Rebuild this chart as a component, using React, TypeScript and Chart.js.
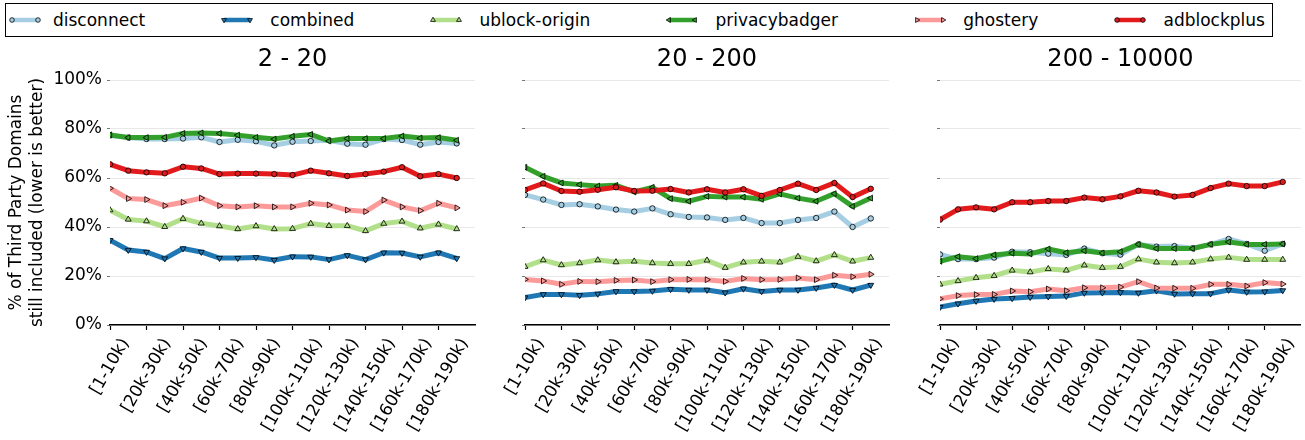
import React, { useEffect, useRef } from 'react';
import { Chart, registerables } from 'chart.js';

Chart.register(...registerables);

const FONT = "'DejaVu Sans', 'Liberation Sans', sans-serif";

// ---------- categories / ticks ----------
const categories = [
  '[1-10k)', '[10k-20k)', '[20k-30k)', '[30k-40k)', '[40k-50k)',
  '[50k-60k)', '[60k-70k)', '[70k-80k)', '[80k-90k)', '[90k-100k)',
  '[100k-110k)', '[110k-120k)', '[120k-130k)', '[130k-140k)', '[140k-150k)',
  '[150k-160k)', '[160k-170k)', '[170k-180k)', '[180k-190k)', '[190k-200k)',
];
const xTickIndices = [0, 2, 4, 6, 8, 10, 12, 14, 16, 18];
const yTickValues = [0, 20, 40, 60, 80, 100];
const yTitleLines = ['% of Third Party Domains', 'still included (lower is better)'];

const panelTitles = ['2 - 20', '20 - 200', '200 - 10000'];
const seriesNames = ['disconnect', 'combined', 'ublock-origin', 'privacybadger', 'ghostery', 'adblockplus'];

// ---------- series values (percent) ----------
// panel "2 - 20"
const disconnect_2_20 = [77.4, 76.5, 75.9, 75.9, 76.1, 76.6, 74.7, 75.6, 75.0, 73.3, 74.8, 75.1, 75.4, 74.0, 73.6, 75.9, 75.5, 73.6, 74.7, 74.1];
const combined_2_20 = [34.6, 30.6, 29.8, 27.1, 31.2, 29.8, 27.3, 27.3, 27.6, 26.5, 27.9, 27.8, 26.7, 28.4, 26.7, 29.5, 29.4, 27.8, 29.5, 27.2];
const ublock_2_20 = [46.9, 43.1, 42.4, 40.1, 43.4, 41.5, 40.4, 39.2, 40.4, 39.2, 39.3, 41.4, 40.5, 40.5, 38.4, 41.4, 42.3, 39.5, 41.1, 39.2];
const privacybadger_2_20 = [77.6, 76.5, 76.5, 76.6, 78.2, 78.4, 78.2, 77.5, 76.6, 75.9, 77.0, 77.8, 75.1, 76.1, 76.1, 76.1, 77.1, 76.3, 76.5, 75.4];
const ghostery_2_20 = [55.8, 51.6, 51.2, 48.7, 50.1, 51.8, 48.7, 48.2, 48.7, 48.2, 48.2, 49.7, 49.0, 46.9, 46.3, 51.0, 48.2, 46.7, 49.7, 47.8];
const adblockplus_2_20 = [65.6, 63.0, 62.3, 61.9, 64.6, 63.9, 61.6, 61.8, 61.8, 61.6, 61.2, 63.0, 61.9, 60.8, 61.6, 62.6, 64.4, 60.7, 61.6, 60.0];

// panel "20 - 200"
const disconnect_20_200 = [53.1, 51.2, 49.0, 49.3, 48.4, 47.1, 46.3, 47.6, 45.2, 44.1, 43.9, 42.9, 43.7, 41.6, 41.6, 42.9, 43.7, 46.3, 40.0, 43.5];
const combined_20_200 = [11.2, 12.5, 12.5, 12.1, 12.7, 13.7, 13.7, 13.9, 14.6, 14.3, 14.3, 13.2, 14.8, 13.7, 14.3, 14.3, 15.1, 16.3, 14.3, 16.3];
const ublock_20_200 = [23.8, 26.5, 24.5, 25.3, 26.5, 25.7, 26.0, 25.3, 25.0, 25.0, 26.4, 23.4, 25.6, 26.0, 25.6, 27.9, 26.1, 28.6, 26.0, 27.5];
const privacybadger_20_200 = [64.4, 60.7, 58.0, 57.3, 56.7, 57.0, 54.3, 56.2, 51.6, 50.5, 52.5, 52.2, 52.2, 51.3, 53.5, 51.8, 50.5, 53.6, 48.4, 51.8];
const ghostery_20_200 = [18.6, 18.0, 16.6, 17.8, 17.7, 18.2, 18.4, 17.7, 18.5, 18.6, 18.5, 17.8, 19.0, 18.5, 18.6, 19.2, 18.5, 20.3, 19.7, 20.7];
const adblockplus_20_200 = [55.1, 57.8, 54.7, 54.4, 55.2, 56.2, 54.7, 54.8, 55.5, 54.1, 55.4, 54.1, 55.4, 52.7, 55.1, 57.7, 55.1, 58.0, 52.2, 55.6];

// panel "200 - 10000"
const disconnect_200_10000 = [28.8, 26.9, 26.9, 27.5, 29.9, 29.7, 29.1, 28.6, 31.2, 29.3, 28.7, 32.9, 32.0, 32.2, 31.3, 32.9, 35.1, 33.1, 30.3, 33.1];
const combined_200_10000 = [7.3, 8.7, 9.8, 10.6, 10.9, 11.4, 11.6, 11.8, 13.1, 13.2, 13.3, 13.1, 14.0, 12.7, 12.8, 12.8, 14.3, 13.5, 13.6, 14.1];
const ublock_200_10000 = [16.6, 18.0, 19.3, 20.1, 22.3, 21.6, 22.9, 22.3, 24.4, 23.4, 23.8, 26.9, 25.6, 25.3, 25.6, 26.9, 27.6, 26.7, 26.7, 26.7];
const privacybadger_200_10000 = [26.0, 27.9, 27.1, 28.6, 29.3, 29.0, 31.0, 29.5, 30.3, 29.4, 29.9, 32.9, 31.2, 31.2, 31.2, 32.9, 33.9, 32.9, 32.9, 33.1];
const ghostery_200_10000 = [10.7, 12.0, 12.4, 12.5, 13.9, 13.6, 14.7, 14.0, 15.2, 15.2, 15.5, 17.7, 15.1, 15.0, 15.0, 16.6, 16.6, 15.9, 17.3, 16.7];
const adblockplus_200_10000 = [43.0, 47.2, 48.0, 47.2, 50.1, 50.1, 50.6, 50.6, 52.0, 51.3, 52.5, 54.8, 54.1, 52.4, 53.1, 55.9, 57.7, 56.7, 56.7, 58.4];

const panelSeries = [
  [disconnect_2_20, combined_2_20, ublock_2_20, privacybadger_2_20, ghostery_2_20, adblockplus_2_20],
  [disconnect_20_200, combined_20_200, ublock_20_200, privacybadger_20_200, ghostery_20_200, adblockplus_20_200],
  [disconnect_200_10000, combined_200_10000, ublock_200_10000, privacybadger_200_10000, ghostery_200_10000, adblockplus_200_10000],
];

// ---------- styles ----------
const seriesColors = ['#a6cee3', '#1f78b4', '#b2df8a', '#33a02c', '#fb9a99', '#e31a1c'];
const seriesMarkers = ['circle', 'triangle', 'triangle', 'triangle', 'triangle', 'circle'];
const markerRotations = [0, 180, 0, 270, 90, 0];

const panelLayout = [
  { left: 0, width: 490, yWidth: 110, rightPad: 15, showY: true },
  { left: 490, width: 415, yWidth: 35, rightPad: 16, showY: false },
  { left: 905, width: 400, yWidth: 35, rightPad: 1, showY: false },
];
const CHART_TOP = 40;
const CHART_HEIGHT = 400;
const X_LABEL_FONT_SIZE = 17;
const X_LABEL_ROTATION = 60;

// Draws the rotated category labels centred under their ticks (matplotlib style),
// positioned from the chart's own x scale.
const xLabelPlugin = {
  id: 'xCenteredLabels',
  afterDraw(chart: any) {
    const sx = chart.scales.x;
    const ctx = chart.ctx as CanvasRenderingContext2D;
    const th = (X_LABEL_ROTATION * Math.PI) / 180;
    const lineH = X_LABEL_FONT_SIZE * 1.17;
    ctx.save();
    ctx.font = `${X_LABEL_FONT_SIZE}px ${FONT}`;
    ctx.fillStyle = '#000';
    ctx.textAlign = 'center';
    ctx.textBaseline = 'middle';
    xTickIndices.forEach((i) => {
      const text = categories[i];
      const w = ctx.measureText(text).width;
      const H = w * Math.sin(th) + lineH * Math.cos(th);
      const cx = sx.getPixelForValue(i);
      const cy = sx.top + 10 + H / 2;
      ctx.save();
      ctx.translate(cx, cy);
      ctx.rotate(-th);
      ctx.fillText(text, 0, 0);
      ctx.restore();
    });
    ctx.restore();
  },
};

function PanelChart({ index }: { index: number }) {
  const ref = useRef<HTMLCanvasElement>(null);
  const lay = panelLayout[index];
  useEffect(() => {
    const datasets = seriesNames.map((name, s) => ({
      label: name,
      data: panelSeries[index][s].map((v, i) => ({ x: i, y: v })),
      borderColor: seriesColors[s],
      backgroundColor: seriesColors[s],
      pointBackgroundColor: seriesColors[s],
      pointBorderColor: '#000',
      pointBorderWidth: 0.8,
      pointStyle: seriesMarkers[s],
      pointRotation: markerRotations[s],
      pointRadius: seriesMarkers[s] === 'circle' ? 2.7 : 3.4,
      pointHoverRadius: 3,
      borderWidth: 5,
      borderJoinStyle: 'round',
      tension: 0,
      fill: false,
      order: seriesNames.length - 1 - s,
    }));
    const chart = new Chart(ref.current as HTMLCanvasElement, {
      type: 'line',
      data: { datasets } as any,
      plugins: [xLabelPlugin],
      options: {
        animation: false,
        responsive: false,
        devicePixelRatio: 1,
        events: [],
        layout: { padding: { left: 0, right: lay.rightPad, top: 0, bottom: 0 } },
        plugins: {
          legend: { display: false },
          tooltip: { enabled: false },
          title: {
            display: true,
            text: panelTitles[index],
            fullSize: false,
            color: '#000',
            font: { family: FONT, size: 24, weight: 'normal', lineHeight: 1.2 },
            padding: { top: 5, bottom: 6.2 },
          },
        },
        scales: {
          x: {
            type: 'linear',
            min: 0,
            max: 20,
            afterBuildTicks: (s: any) => {
              s.ticks = xTickIndices.map((v) => ({ value: v }));
            },
            afterFit: (s: any) => {
              s.height = CHART_HEIGHT - 40 - 245;
            },
            ticks: {
              display: false,
              autoSkip: false,
              callback: (v: any) => categories[v],
            },
            grid: {
              display: true,
              drawOnChartArea: false,
              drawTicks: true,
              tickLength: 5,
              tickColor: '#000',
              tickWidth: 1.2,
            },
            border: { display: true, color: '#000', width: 1.5 },
          },
          y: {
            type: 'linear',
            min: 0,
            max: 100,
            afterBuildTicks: (s: any) => {
              s.ticks = yTickValues.map((v) => ({ value: v }));
            },
            afterFit: (s: any) => {
              s.width = lay.yWidth;
            },
            ticks: {
              display: lay.showY,
              color: '#000',
              padding: 5,
              font: { family: FONT, size: 17 },
              callback: (v: any) => v + '%',
            },
            grid: {
              color: '#e8e8e8',
              lineWidth: 1,
              drawTicks: true,
              tickLength: 3,
              tickColor: '#777',
            },
            border: { display: false },
            title: {
              display: lay.showY,
              text: yTitleLines,
              color: '#000',
              font: { family: FONT, size: 17, lineHeight: 1.18 },
              padding: { top: 7, bottom: 0 },
            },
          },
        },
      } as any,
    });
    return () => chart.destroy();
  }, []);
  return (
    <canvas
      ref={ref}
      width={lay.width}
      height={CHART_HEIGHT}
      style={{ position: 'absolute', left: lay.left, top: CHART_TOP, width: lay.width, height: CHART_HEIGHT }}
    />
  );
}

function Marker({ shape, rotation, color, x, y, r }: any) {
  if (shape === 'circle') {
    return <circle cx={x} cy={y} r={r} fill={color} stroke="#000" strokeWidth={0.8} />;
  }
  const pts = [0, 120, 240]
    .map((a) => {
      const rad = ((a + rotation) * Math.PI) / 180;
      return `${x + Math.sin(rad) * r},${y - Math.cos(rad) * r}`;
    })
    .join(' ');
  return <polygon points={pts} fill={color} stroke="#000" strokeWidth={0.8} />;
}

function Legend() {
  return (
    <div
      style={{
        position: 'absolute',
        left: 5,
        top: 3,
        width: 1268,
        height: 34,
        boxSizing: 'border-box',
        border: '1.5px solid #000',
        display: 'flex',
        alignItems: 'center',
        justifyContent: 'space-between',
        padding: '0 7px 0 3px',
        background: '#fff',
      }}
    >
      {seriesNames.map((name, s) => {
        const r = seriesMarkers[s] === 'circle' ? 2.3 : 2.8;
        return (
          <div key={name} style={{ display: 'flex', alignItems: 'center' }}>
            <svg width={32} height={14} style={{ display: 'block' }}>
              <line x1={3} y1={7} x2={29} y2={7} stroke={seriesColors[s]} strokeWidth={4.5} />
              <Marker shape={seriesMarkers[s]} rotation={markerRotations[s]} color={seriesColors[s]} x={3} y={7} r={r} />
              <Marker shape={seriesMarkers[s]} rotation={markerRotations[s]} color={seriesColors[s]} x={29} y={7} r={r} />
            </svg>
            <span style={{ marginLeft: s === 0 ? 12 : 17, fontFamily: FONT, fontSize: 17, color: '#000', lineHeight: '20px' }}>{name}</span>
          </div>
        );
      })}
    </div>
  );
}

export default function App() {
  return (
    <div style={{ position: 'absolute', left: 0, top: 0, width: 1305, height: 440, background: '#fff', overflow: 'hidden' }}>
      <Legend />
      {panelTitles.map((t, i) => (
        <PanelChart key={t} index={i} />
      ))}
    </div>
  );
}
